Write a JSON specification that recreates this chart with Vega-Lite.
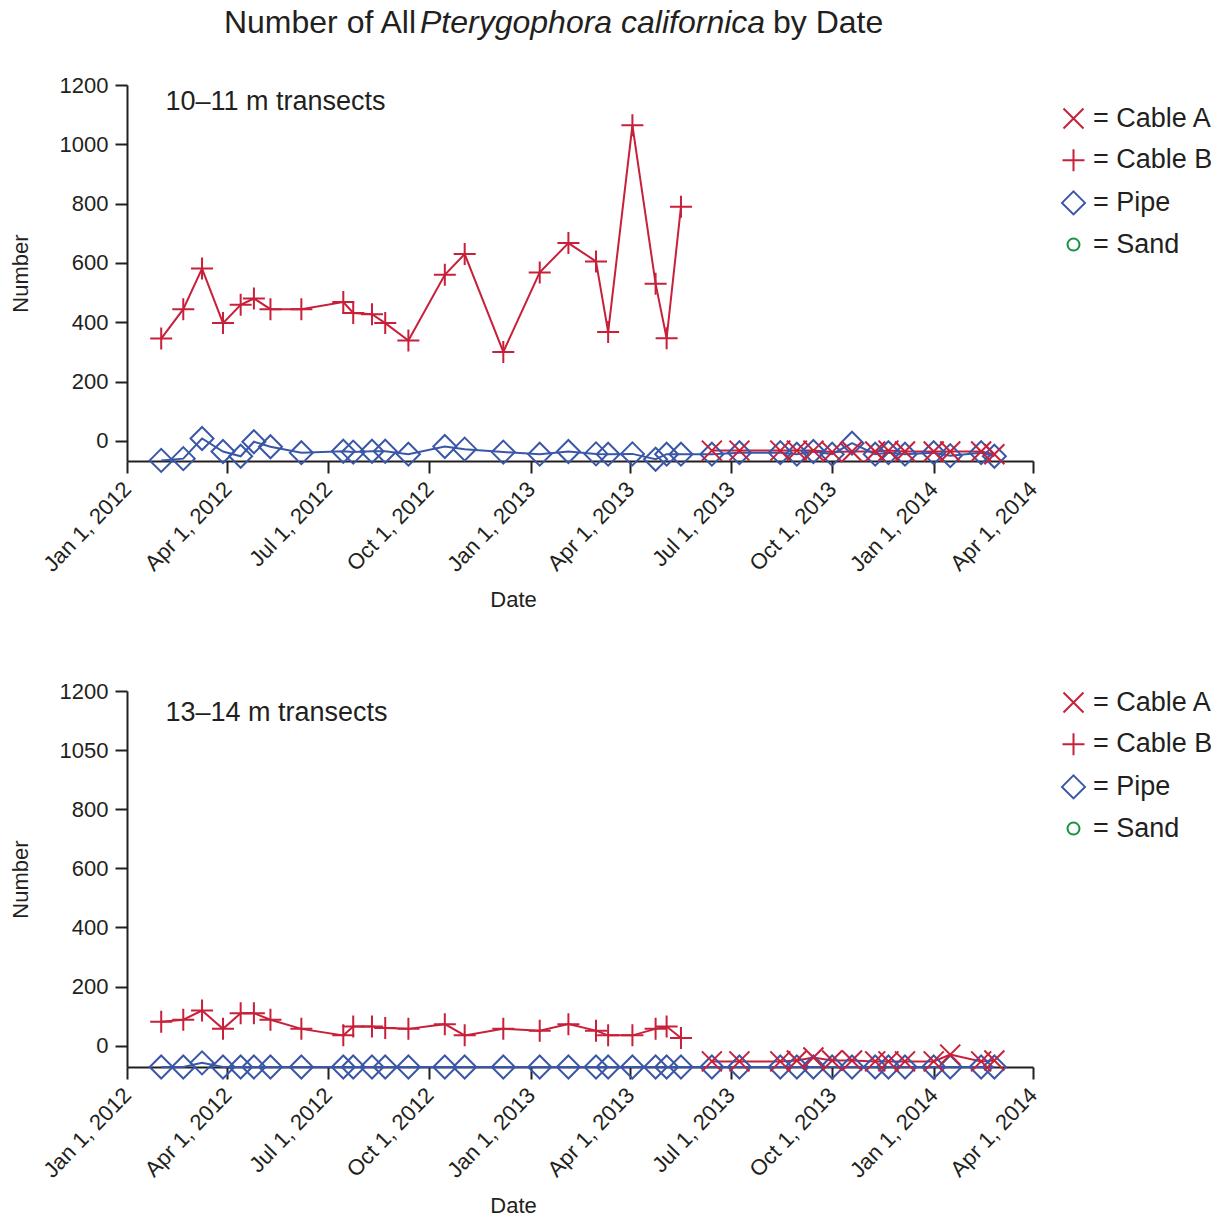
{
  "$schema": "https://vega.github.io/schema/vega-lite/v6.json",
  "background": "white",
  "padding": {"left": 9, "top": 7, "right": 4, "bottom": 4},
  "config": {
    "view": {"stroke": null},
    "font": "Liberation Sans",
    "title": {"font": "Liberation Sans", "fontWeight": "normal", "color": "#231f20", "fontSize": 32},
    "axis": {"domainColor": "#231f20", "domainWidth": 2, "tickColor": "#231f20", "tickWidth": 2, "tickSize": 12, "labelColor": "#231f20", "titleColor": "#231f20", "labelFont": "Liberation Sans", "titleFont": "Liberation Sans", "titleFontWeight": "normal", "grid": false, "labelFontSize": 22, "titleFontSize": 22, "labelPadding": 7},
    "legend": {"labelFont": "Liberation Sans", "labelFontSize": 27, "labelColor": "#231f20", "symbolStrokeWidth": 2, "symbolSize": 400, "padding": 0, "rowPadding": 11.7, "labelOffset": 6}
  },
  "datasets": {
    "pts": [
      {"panel": "top", "site": "Cable B", "date": "2012-02-01", "value": 345},
      {"panel": "top", "site": "Cable B", "date": "2012-02-21", "value": 444},
      {"panel": "top", "site": "Cable B", "date": "2012-03-09", "value": 581},
      {"panel": "top", "site": "Cable B", "date": "2012-03-28", "value": 397},
      {"panel": "top", "site": "Cable B", "date": "2012-04-13", "value": 459},
      {"panel": "top", "site": "Cable B", "date": "2012-04-25", "value": 480},
      {"panel": "top", "site": "Cable B", "date": "2012-05-10", "value": 444},
      {"panel": "top", "site": "Cable B", "date": "2012-06-07", "value": 444},
      {"panel": "top", "site": "Cable B", "date": "2012-07-15", "value": 468},
      {"panel": "top", "site": "Cable B", "date": "2012-07-24", "value": 431},
      {"panel": "top", "site": "Cable B", "date": "2012-08-10", "value": 427},
      {"panel": "top", "site": "Cable B", "date": "2012-08-22", "value": 397},
      {"panel": "top", "site": "Cable B", "date": "2012-09-12", "value": 338},
      {"panel": "top", "site": "Cable B", "date": "2012-10-15", "value": 560},
      {"panel": "top", "site": "Cable B", "date": "2012-11-02", "value": 630},
      {"panel": "top", "site": "Cable B", "date": "2012-12-07", "value": 300},
      {"panel": "top", "site": "Cable B", "date": "2013-01-09", "value": 568},
      {"panel": "top", "site": "Cable B", "date": "2013-02-04", "value": 667},
      {"panel": "top", "site": "Cable B", "date": "2013-03-01", "value": 605},
      {"panel": "top", "site": "Cable B", "date": "2013-03-12", "value": 367},
      {"panel": "top", "site": "Cable B", "date": "2013-04-03", "value": 1064},
      {"panel": "top", "site": "Cable B", "date": "2013-04-24", "value": 530},
      {"panel": "top", "site": "Cable B", "date": "2013-05-04", "value": 346},
      {"panel": "top", "site": "Cable B", "date": "2013-05-17", "value": 789},
      {"panel": "top", "site": "Pipe", "date": "2012-02-01", "value": -66},
      {"panel": "top", "site": "Pipe", "date": "2012-02-21", "value": -60},
      {"panel": "top", "site": "Pipe", "date": "2012-03-09", "value": 8},
      {"panel": "top", "site": "Pipe", "date": "2012-03-28", "value": -36},
      {"panel": "top", "site": "Pipe", "date": "2012-04-13", "value": -52},
      {"panel": "top", "site": "Pipe", "date": "2012-04-25", "value": -3},
      {"panel": "top", "site": "Pipe", "date": "2012-05-10", "value": -20},
      {"panel": "top", "site": "Pipe", "date": "2012-06-07", "value": -40},
      {"panel": "top", "site": "Pipe", "date": "2012-07-15", "value": -35},
      {"panel": "top", "site": "Pipe", "date": "2012-07-24", "value": -38},
      {"panel": "top", "site": "Pipe", "date": "2012-08-10", "value": -35},
      {"panel": "top", "site": "Pipe", "date": "2012-08-22", "value": -35},
      {"panel": "top", "site": "Pipe", "date": "2012-09-12", "value": -45},
      {"panel": "top", "site": "Pipe", "date": "2012-10-15", "value": -19},
      {"panel": "top", "site": "Pipe", "date": "2012-11-02", "value": -28},
      {"panel": "top", "site": "Pipe", "date": "2012-12-07", "value": -38},
      {"panel": "top", "site": "Pipe", "date": "2013-01-09", "value": -45},
      {"panel": "top", "site": "Pipe", "date": "2013-02-04", "value": -36},
      {"panel": "top", "site": "Pipe", "date": "2013-03-01", "value": -44},
      {"panel": "top", "site": "Pipe", "date": "2013-03-12", "value": -45},
      {"panel": "top", "site": "Pipe", "date": "2013-04-03", "value": -44},
      {"panel": "top", "site": "Pipe", "date": "2013-04-24", "value": -62},
      {"panel": "top", "site": "Pipe", "date": "2013-05-04", "value": -45},
      {"panel": "top", "site": "Pipe", "date": "2013-05-17", "value": -45},
      {"panel": "top", "site": "Pipe", "date": "2013-06-14", "value": -45},
      {"panel": "top", "site": "Pipe", "date": "2013-07-09", "value": -40},
      {"panel": "top", "site": "Pipe", "date": "2013-08-15", "value": -40},
      {"panel": "top", "site": "Pipe", "date": "2013-08-30", "value": -45},
      {"panel": "top", "site": "Pipe", "date": "2013-09-14", "value": -36},
      {"panel": "top", "site": "Pipe", "date": "2013-10-01", "value": -45},
      {"panel": "top", "site": "Pipe", "date": "2013-10-19", "value": -8},
      {"panel": "top", "site": "Pipe", "date": "2013-11-09", "value": -45},
      {"panel": "top", "site": "Pipe", "date": "2013-11-21", "value": -40},
      {"panel": "top", "site": "Pipe", "date": "2013-12-06", "value": -45},
      {"panel": "top", "site": "Pipe", "date": "2014-01-01", "value": -40},
      {"panel": "top", "site": "Pipe", "date": "2014-01-16", "value": -50},
      {"panel": "top", "site": "Pipe", "date": "2014-02-13", "value": -40},
      {"panel": "top", "site": "Pipe", "date": "2014-02-25", "value": -52},
      {"panel": "top", "site": "Cable A", "date": "2013-06-14", "value": -33},
      {"panel": "top", "site": "Cable A", "date": "2013-07-09", "value": -33},
      {"panel": "top", "site": "Cable A", "date": "2013-08-15", "value": -33},
      {"panel": "top", "site": "Cable A", "date": "2013-08-30", "value": -33},
      {"panel": "top", "site": "Cable A", "date": "2013-09-14", "value": -33},
      {"panel": "top", "site": "Cable A", "date": "2013-10-01", "value": -38},
      {"panel": "top", "site": "Cable A", "date": "2013-10-19", "value": -36},
      {"panel": "top", "site": "Cable A", "date": "2013-11-09", "value": -36},
      {"panel": "top", "site": "Cable A", "date": "2013-11-21", "value": -33},
      {"panel": "top", "site": "Cable A", "date": "2013-12-06", "value": -36},
      {"panel": "top", "site": "Cable A", "date": "2014-01-01", "value": -36},
      {"panel": "top", "site": "Cable A", "date": "2014-01-16", "value": -36},
      {"panel": "top", "site": "Cable A", "date": "2014-02-13", "value": -36},
      {"panel": "top", "site": "Cable A", "date": "2014-02-25", "value": -45},
      {"panel": "bottom", "site": "Cable B", "date": "2012-02-01", "value": 81},
      {"panel": "bottom", "site": "Cable B", "date": "2012-02-21", "value": 88},
      {"panel": "bottom", "site": "Cable B", "date": "2012-03-09", "value": 119},
      {"panel": "bottom", "site": "Cable B", "date": "2012-03-28", "value": 57},
      {"panel": "bottom", "site": "Cable B", "date": "2012-04-13", "value": 110},
      {"panel": "bottom", "site": "Cable B", "date": "2012-04-25", "value": 110},
      {"panel": "bottom", "site": "Cable B", "date": "2012-05-10", "value": 88},
      {"panel": "bottom", "site": "Cable B", "date": "2012-06-07", "value": 57},
      {"panel": "bottom", "site": "Cable B", "date": "2012-07-15", "value": 35},
      {"panel": "bottom", "site": "Cable B", "date": "2012-07-24", "value": 65},
      {"panel": "bottom", "site": "Cable B", "date": "2012-08-10", "value": 65},
      {"panel": "bottom", "site": "Cable B", "date": "2012-08-22", "value": 60},
      {"panel": "bottom", "site": "Cable B", "date": "2012-09-12", "value": 57},
      {"panel": "bottom", "site": "Cable B", "date": "2012-10-15", "value": 73},
      {"panel": "bottom", "site": "Cable B", "date": "2012-11-02", "value": 35},
      {"panel": "bottom", "site": "Cable B", "date": "2012-12-07", "value": 57},
      {"panel": "bottom", "site": "Cable B", "date": "2013-01-09", "value": 51},
      {"panel": "bottom", "site": "Cable B", "date": "2013-02-04", "value": 73},
      {"panel": "bottom", "site": "Cable B", "date": "2013-03-01", "value": 51},
      {"panel": "bottom", "site": "Cable B", "date": "2013-03-12", "value": 35},
      {"panel": "bottom", "site": "Cable B", "date": "2013-04-03", "value": 35},
      {"panel": "bottom", "site": "Cable B", "date": "2013-04-24", "value": 57},
      {"panel": "bottom", "site": "Cable B", "date": "2013-05-04", "value": 65},
      {"panel": "bottom", "site": "Cable B", "date": "2013-05-17", "value": 26},
      {"panel": "bottom", "site": "Pipe", "date": "2012-02-01", "value": -72},
      {"panel": "bottom", "site": "Pipe", "date": "2012-02-21", "value": -72},
      {"panel": "bottom", "site": "Pipe", "date": "2012-03-09", "value": -58},
      {"panel": "bottom", "site": "Pipe", "date": "2012-03-28", "value": -72},
      {"panel": "bottom", "site": "Pipe", "date": "2012-04-13", "value": -72},
      {"panel": "bottom", "site": "Pipe", "date": "2012-04-25", "value": -72},
      {"panel": "bottom", "site": "Pipe", "date": "2012-05-10", "value": -72},
      {"panel": "bottom", "site": "Pipe", "date": "2012-06-07", "value": -72},
      {"panel": "bottom", "site": "Pipe", "date": "2012-07-15", "value": -72},
      {"panel": "bottom", "site": "Pipe", "date": "2012-07-24", "value": -72},
      {"panel": "bottom", "site": "Pipe", "date": "2012-08-10", "value": -72},
      {"panel": "bottom", "site": "Pipe", "date": "2012-08-22", "value": -72},
      {"panel": "bottom", "site": "Pipe", "date": "2012-09-12", "value": -72},
      {"panel": "bottom", "site": "Pipe", "date": "2012-10-15", "value": -72},
      {"panel": "bottom", "site": "Pipe", "date": "2012-11-02", "value": -72},
      {"panel": "bottom", "site": "Pipe", "date": "2012-12-07", "value": -72},
      {"panel": "bottom", "site": "Pipe", "date": "2013-01-09", "value": -72},
      {"panel": "bottom", "site": "Pipe", "date": "2013-02-04", "value": -72},
      {"panel": "bottom", "site": "Pipe", "date": "2013-03-01", "value": -72},
      {"panel": "bottom", "site": "Pipe", "date": "2013-03-12", "value": -72},
      {"panel": "bottom", "site": "Pipe", "date": "2013-04-03", "value": -72},
      {"panel": "bottom", "site": "Pipe", "date": "2013-04-24", "value": -72},
      {"panel": "bottom", "site": "Pipe", "date": "2013-05-04", "value": -72},
      {"panel": "bottom", "site": "Pipe", "date": "2013-05-17", "value": -72},
      {"panel": "bottom", "site": "Pipe", "date": "2013-06-14", "value": -72},
      {"panel": "bottom", "site": "Pipe", "date": "2013-07-09", "value": -72},
      {"panel": "bottom", "site": "Pipe", "date": "2013-08-15", "value": -72},
      {"panel": "bottom", "site": "Pipe", "date": "2013-08-30", "value": -72},
      {"panel": "bottom", "site": "Pipe", "date": "2013-09-14", "value": -72},
      {"panel": "bottom", "site": "Pipe", "date": "2013-10-01", "value": -72},
      {"panel": "bottom", "site": "Pipe", "date": "2013-10-19", "value": -72},
      {"panel": "bottom", "site": "Pipe", "date": "2013-11-09", "value": -72},
      {"panel": "bottom", "site": "Pipe", "date": "2013-11-21", "value": -72},
      {"panel": "bottom", "site": "Pipe", "date": "2013-12-06", "value": -72},
      {"panel": "bottom", "site": "Pipe", "date": "2014-01-01", "value": -72},
      {"panel": "bottom", "site": "Pipe", "date": "2014-01-16", "value": -72},
      {"panel": "bottom", "site": "Pipe", "date": "2014-02-13", "value": -72},
      {"panel": "bottom", "site": "Pipe", "date": "2014-02-25", "value": -72},
      {"panel": "bottom", "site": "Cable A", "date": "2013-06-14", "value": -53},
      {"panel": "bottom", "site": "Cable A", "date": "2013-07-09", "value": -53},
      {"panel": "bottom", "site": "Cable A", "date": "2013-08-15", "value": -53},
      {"panel": "bottom", "site": "Cable A", "date": "2013-08-30", "value": -50},
      {"panel": "bottom", "site": "Cable A", "date": "2013-09-14", "value": -40},
      {"panel": "bottom", "site": "Cable A", "date": "2013-10-01", "value": -50},
      {"panel": "bottom", "site": "Cable A", "date": "2013-10-19", "value": -50},
      {"panel": "bottom", "site": "Cable A", "date": "2013-11-09", "value": -53},
      {"panel": "bottom", "site": "Cable A", "date": "2013-11-21", "value": -53},
      {"panel": "bottom", "site": "Cable A", "date": "2013-12-06", "value": -53},
      {"panel": "bottom", "site": "Cable A", "date": "2014-01-01", "value": -53},
      {"panel": "bottom", "site": "Cable A", "date": "2014-01-16", "value": -30},
      {"panel": "bottom", "site": "Cable A", "date": "2014-02-13", "value": -53},
      {"panel": "bottom", "site": "Cable A", "date": "2014-02-25", "value": -50}
    ]
  },
  "spacing": 0,
  "vconcat": [
    {
      "spacing": 0,
      "hconcat": [
        {"width": 289, "height": 30, "data": {"values": [{}]}, "mark": {"type": "text", "text": ""}, "encoding": {}, "title": {"text": "Number of All", "anchor": "end"}},
        {"width": 353, "height": 30, "data": {"values": [{}]}, "mark": {"type": "text", "text": ""}, "encoding": {}, "title": {"text": "Pterygophora californica", "anchor": "start", "fontStyle": "italic", "dx": 4}},
        {"width": 120, "height": 30, "data": {"values": [{}]}, "mark": {"type": "text", "text": ""}, "encoding": {}, "title": {"text": "by Date", "anchor": "start", "dx": 4}}
      ]
    },
    {
      "spacing": 69,
      "resolve": {"scale": {"x": "independent", "y": "independent", "color": "independent", "shape": "independent"}, "legend": {"color": "independent", "shape": "independent"}},
      "vconcat": [
        {
          "width": 906, "height": 376,
          "data": {"name": "pts"},
          "transform": [{"filter": "datum.panel == 'top'"}],
          "resolve": {"axis": {"x": "independent"}},
          "encoding": {
            "y": {"field": "value", "type": "quantitative", "scale": {"domain": [-68, 1200], "nice": false, "zero": false},
              "axis": {"title": "Number", "titlePadding": 27, "format": "d", "values": [0, 200, 400, 600, 800, 1000, 1200]}}
          },
          "layer": [
            {"transform": [{"filter": "datum.site != 'Pipe'"}],
             "mark": {"type": "line", "strokeWidth": 2, "color": "#c8203a"},
             "encoding": {"x": {"field": "date", "type": "temporal", "scale": {"domain": [{"year": 2012, "month": 1, "date": 1}, {"year": 2014, "month": 4, "date": 1}]}, "axis": null}, "detail": {"field": "site"}}},
            {"transform": [{"filter": "datum.site == 'Pipe'"}],
             "mark": {"type": "line", "strokeWidth": 2, "color": "#3a57a7"},
             "encoding": {"x": {"field": "date", "type": "temporal", "scale": {"domain": [{"year": 2012, "month": 1, "date": 1}, {"year": 2014, "month": 4, "date": 1}]},
               "axis": {"orient": "top", "domain": false, "ticks": false, "labels": false, "title": "10–11 m transects", "titleX": 38, "titleY": 16, "titleAlign": "left", "titleBaseline": "middle", "titleAngle": 0, "titleFontSize": 27}}}},
            {"mark": {"type": "point", "filled": false, "strokeWidth": 2, "size": 400, "opacity": 1},
             "encoding": {
               "x": {"field": "date", "type": "temporal", "scale": {"domain": [{"year": 2012, "month": 1, "date": 1}, {"year": 2014, "month": 4, "date": 1}]},
                 "axis": {"title": "Date", "titleX": 386, "titlePadding": 14, "format": "%b %-d, %Y", "labelAngle": -46, "labelAlign": "right", "labelBaseline": "middle", "labelPadding": 12, "labelOverlap": false, "labelFlush": false,
                   "values": [{"year": 2012, "month": 1, "date": 1}, {"year": 2012, "month": 4, "date": 1}, {"year": 2012, "month": 7, "date": 1}, {"year": 2012, "month": 10, "date": 1}, {"year": 2013, "month": 1, "date": 1}, {"year": 2013, "month": 4, "date": 1}, {"year": 2013, "month": 7, "date": 1}, {"year": 2013, "month": 10, "date": 1}, {"year": 2014, "month": 1, "date": 1}, {"year": 2014, "month": 4, "date": 1}]}},
               "color": {"field": "site", "type": "nominal", "scale": {"domain": ["Cable A", "Cable B", "Pipe", "Sand"], "range": ["#c8203a", "#c8203a", "#3a57a7", "#16913f"]},
                 "legend": {"title": null, "orient": "none", "legendX": 933, "legendY": 20, "labelExpr": "'= ' + datum.label"}},
               "shape": {"field": "site", "type": "nominal", "scale": {"domain": ["Cable A", "Cable B", "Pipe", "Sand"], "range": ["M-1,-1L1,1M-1,1L1,-1", "M-1.1,0L1.1,0M0,-1.1L0,1.1", "M0,-1.15L1.15,0L0,1.15L-1.15,0Z", "M0.6,0A0.6,0.6,0,1,1,-0.6,0A0.6,0.6,0,1,1,0.6,0Z"]},
                 "legend": {"title": null, "orient": "none", "legendX": 933, "legendY": 20, "labelExpr": "'= ' + datum.label"}}
             }}
          ]
        },
        {
          "width": 906, "height": 376,
          "data": {"name": "pts"},
          "transform": [{"filter": "datum.panel == 'bottom'"}],
          "resolve": {"axis": {"x": "independent"}},
          "encoding": {
            "y": {"field": "value", "type": "quantitative", "scale": {"domain": [-72, 1200], "nice": false, "zero": false},
              "axis": {"title": "Number", "titlePadding": 27, "format": "d", "values": [0, 200, 400, 600, 800, 1000, 1200], "labelExpr": "datum.value == 1000 ? '1050' : datum.label"}}
          },
          "layer": [
            {"transform": [{"filter": "datum.site != 'Pipe'"}],
             "mark": {"type": "line", "strokeWidth": 2, "color": "#c8203a"},
             "encoding": {"x": {"field": "date", "type": "temporal", "scale": {"domain": [{"year": 2012, "month": 1, "date": 1}, {"year": 2014, "month": 4, "date": 1}]}, "axis": null}, "detail": {"field": "site"}}},
            {"transform": [{"filter": "datum.site == 'Pipe'"}],
             "mark": {"type": "line", "strokeWidth": 2, "color": "#3a57a7"},
             "encoding": {"x": {"field": "date", "type": "temporal", "scale": {"domain": [{"year": 2012, "month": 1, "date": 1}, {"year": 2014, "month": 4, "date": 1}]},
               "axis": {"orient": "top", "domain": false, "ticks": false, "labels": false, "title": "13–14 m transects", "titleX": 38, "titleY": 21, "titleAlign": "left", "titleBaseline": "middle", "titleAngle": 0, "titleFontSize": 27}}}},
            {"mark": {"type": "point", "filled": false, "strokeWidth": 2, "size": 400, "opacity": 1},
             "encoding": {
               "x": {"field": "date", "type": "temporal", "scale": {"domain": [{"year": 2012, "month": 1, "date": 1}, {"year": 2014, "month": 4, "date": 1}]},
                 "axis": {"title": "Date", "titleX": 386, "titlePadding": 14, "format": "%b %-d, %Y", "labelAngle": -46, "labelAlign": "right", "labelBaseline": "middle", "labelPadding": 12, "labelOverlap": false, "labelFlush": false,
                   "values": [{"year": 2012, "month": 1, "date": 1}, {"year": 2012, "month": 4, "date": 1}, {"year": 2012, "month": 7, "date": 1}, {"year": 2012, "month": 10, "date": 1}, {"year": 2013, "month": 1, "date": 1}, {"year": 2013, "month": 4, "date": 1}, {"year": 2013, "month": 7, "date": 1}, {"year": 2013, "month": 10, "date": 1}, {"year": 2014, "month": 1, "date": 1}, {"year": 2014, "month": 4, "date": 1}]}},
               "color": {"field": "site", "type": "nominal", "scale": {"domain": ["Cable A", "Cable B", "Pipe", "Sand"], "range": ["#c8203a", "#c8203a", "#3a57a7", "#16913f"]},
                 "legend": {"title": null, "orient": "none", "legendX": 933, "legendY": -2, "labelExpr": "'= ' + datum.label"}},
               "shape": {"field": "site", "type": "nominal", "scale": {"domain": ["Cable A", "Cable B", "Pipe", "Sand"], "range": ["M-1,-1L1,1M-1,1L1,-1", "M-1.1,0L1.1,0M0,-1.1L0,1.1", "M0,-1.15L1.15,0L0,1.15L-1.15,0Z", "M0.6,0A0.6,0.6,0,1,1,-0.6,0A0.6,0.6,0,1,1,0.6,0Z"]},
                 "legend": {"title": null, "orient": "none", "legendX": 933, "legendY": -2, "labelExpr": "'= ' + datum.label"}}
             }}
          ]
        }
      ]
    }
  ]
}
